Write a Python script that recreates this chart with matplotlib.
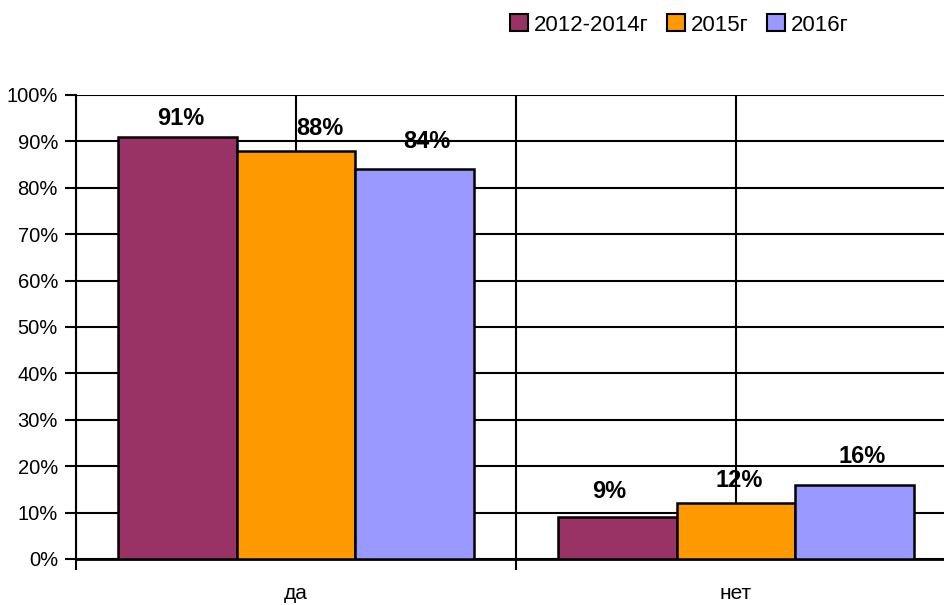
import numpy as np
import matplotlib
matplotlib.use('Agg')
import matplotlib.pyplot as plt
from matplotlib.patches import Patch
from matplotlib.ticker import FixedLocator

# данные
categories = ['да', 'нет']
series_names = ['2012-2014г', '2015г', '2016г']
vals_2012_2014 = [91, 9]
vals_2015 = [88, 12]
vals_2016 = [84, 16]
colors = ['#993366', '#FF9900', '#9999FF']

# сдвиги подписей (пиксели), подписи в оригинале сдвинуты вручную
label_shift = [
    [(4, 18), (-8, 26)],
    [(24, 22), (3, 23)],
    [(12, 28), (7, 28)],
]

plt.rcParams['font.family'] = ['Liberation Sans Narrow', 'Liberation Sans', 'DejaVu Sans']

fig = plt.figure(figsize=(9.45, 6.05), dpi=100)
ax = fig.add_axes([76/945, 46/605, 880/945, 464/605])

x = np.arange(len(categories))
w = 0.27
all_vals = [vals_2012_2014, vals_2015, vals_2016]
for i, vals in enumerate(all_vals):
    pos = x + (i - 1) * w
    ax.bar(pos, vals, width=w, color=colors[i], edgecolor='black', linewidth=1.8, zorder=3)
    for j, v in enumerate(vals):
        dx, dy = label_shift[i][j]
        ax.annotate('%d%%' % v, (pos[j], v), xytext=(dx, dy), textcoords='offset pixels',
                    ha='center', va='center', fontsize=17, fontweight='bold', zorder=4)

ax.set_xlim(-0.5, 1.5)
ax.set_ylim(0, 100)
ax.set_yticks(np.arange(0, 101, 10))
ax.set_yticklabels(['%d%%' % t for t in range(0, 101, 10)], fontsize=14.5)
ax.set_xticks(x)
ax.set_xticklabels(categories, fontsize=15)
ax.xaxis.set_minor_locator(FixedLocator([-0.5, 0.5, 1.5]))
ax.tick_params(axis='x', which='major', length=0, pad=18)
ax.tick_params(axis='x', which='minor', length=8, width=1.5, direction='out')
ax.tick_params(axis='y', length=8, width=1.5, pad=5)

ax.grid(axis='y', color='black', linewidth=1.5, zorder=0)
ax.grid(axis='x', which='both', color='black', linewidth=1.5, zorder=0)
ax.set_axisbelow(True)
for s in ['top', 'right']:
    ax.spines[s].set_visible(False)
ax.spines['left'].set_linewidth(1.5)
ax.spines['bottom'].set_linewidth(2)

handles = [Patch(facecolor=c, edgecolor='black', linewidth=1.5) for c in colors]
fig.legend(handles, series_names, loc='center left', bbox_to_anchor=(501/945, 1 - 25/605),
           ncol=3, frameon=False, fontsize=16, handlelength=0.8, handleheight=0.8,
           handletextpad=0.3, columnspacing=0.8, borderaxespad=0)

fig.savefig('out.png', dpi=100)
